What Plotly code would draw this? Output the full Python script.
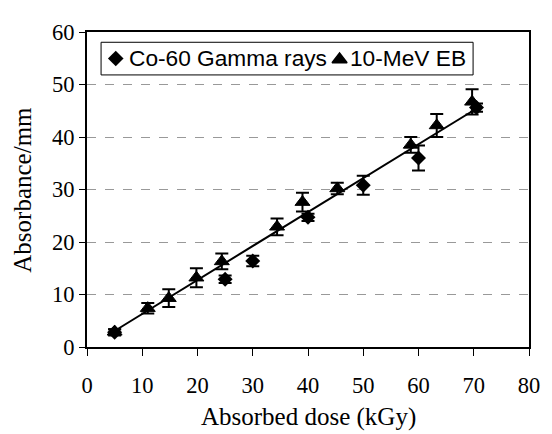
import plotly.graph_objects as go

# Co-60 gamma rays
gamma_dose = [5, 25, 30, 40, 50, 60, 70.5]
gamma_abs = [2.8, 12.9, 16.4, 24.7, 30.8, 36.0, 45.6]
gamma_err = [0.6, 0.7, 1.0, 0.7, 1.8, 2.4, 0.8]

# 10-MeV electron beam
eb_dose = [5, 11, 14.8, 19.8, 24.4, 34.4, 39, 45.3, 58.6, 63.3, 69.7]
eb_abs = [2.9, 7.4, 9.3, 13.2, 16.3, 22.9, 27.6, 30.2, 38.5, 42.2, 46.7]
eb_err = [0.5, 1.0, 1.7, 1.8, 1.5, 1.6, 1.8, 1.1, 1.5, 2.2, 2.4]

# linear trend line end points
fit_dose = [4.9, 71.4]
fit_abs = [3.0, 46.0]

x_ticks = [0, 10, 20, 30, 40, 50, 60, 70, 80]
y_ticks = [0, 10, 20, 30, 40, 50, 60]

series_names = ["Co-60 Gamma rays", "10-MeV EB"]

serif = "Liberation Serif, Times New Roman, serif"
sans = "Liberation Sans, Arial, sans-serif"

# the page body has an 8px margin, so the figure is drawn 8px in from the window corner
OFF = 8
W, H = 552 - OFF, 434 - OFF
ML, MR, MT, MB = 87.3 - OFF, 12.5, 21.7 - OFF, 87.3
PW, PH = W - ML - MR, H - MT - MB


def fx(px):
    """window pixel x -> paper fraction"""
    return (px - OFF - ML) / PW


def fy(py):
    """window pixel y -> paper fraction"""
    return (H - MB - (py - OFF)) / PH


fig = go.Figure()
fig.add_trace(go.Scatter(
    x=gamma_dose, y=gamma_abs, mode="markers", name=series_names[0], showlegend=False,
    marker=dict(symbol="diamond", size=11.5, color="black"),
    error_y=dict(type="data", array=gamma_err, visible=True, color="black", thickness=2, width=6.5),
))
fig.add_trace(go.Scatter(
    x=eb_dose, y=eb_abs, mode="markers", name=series_names[1], showlegend=False,
    marker=dict(symbol="triangle-up", size=13, color="black", line=dict(color="black", width=1)),
    error_y=dict(type="data", array=eb_err, visible=True, color="black", thickness=2, width=6.5),
))
fig.add_trace(go.Scatter(
    x=fit_dose, y=fit_abs, mode="lines", showlegend=False,
    line=dict(color="black", width=2),
))

# legend keys drawn on an overlay axis spanning the plot area
fig.add_trace(go.Scatter(
    x=[fx(116.7)], y=[fy(49)], mode="markers", xaxis="x2", yaxis="y2", showlegend=False,
    marker=dict(symbol="diamond", size=12, color="black"), hoverinfo="skip",
))
fig.add_trace(go.Scatter(
    x=[fx(345.7)], y=[fy(50)], mode="markers", xaxis="x2", yaxis="y2", showlegend=False,
    marker=dict(symbol="triangle-up", size=13, color="black", line=dict(color="black", width=1.5)),
    hoverinfo="skip",
))

fig.add_shape(type="rect", xref="paper", yref="paper",
              x0=fx(101.7), x1=fx(482.3), y0=fy(66), y1=fy(32.3),
              line=dict(color="black", width=1), fillcolor="white", layer="below")

legend_font = dict(family=sans, size=22.7, color="black")
fig.add_annotation(text=series_names[0], xref="paper", yref="paper", x=fx(128), y=fy(48.5),
                   xanchor="left", yanchor="middle", showarrow=False, font=legend_font)
fig.add_annotation(text=series_names[1], xref="paper", yref="paper", x=fx(354), y=fy(48.5),
                   xanchor="left", yanchor="middle", showarrow=False, font=legend_font)

# axis titles
title_font = dict(family=serif, size=25, color="black")
fig.add_annotation(text="Absorbed dose (kGy)", xref="paper", yref="paper", x=0.5, y=fy(419),
                   xanchor="center", yanchor="middle", showarrow=False, font=title_font)
fig.add_annotation(text="Absorbance/mm", xref="paper", yref="paper", x=fx(21), y=0.5,
                   xanchor="center", yanchor="middle", textangle=-90, showarrow=False, font=title_font)

fig.update_layout(
    width=W, height=H,
    margin=dict(l=ML, r=MR, t=MT, b=MB),
    paper_bgcolor="white", plot_bgcolor="white",
    showlegend=False,
    xaxis=dict(
        range=[0, 80], tickvals=x_ticks, ticks="outside", ticklen=7, tickwidth=1,
        tickcolor="black", showline=True, linecolor="black", linewidth=2, mirror=True,
        showgrid=False, zeroline=False, ticklabelstandoff=10,
        tickfont=dict(family=serif, size=22.5, color="black"),
    ),
    yaxis=dict(
        range=[0, 60], tickvals=y_ticks, ticks="outside", ticklen=6, tickwidth=1,
        tickcolor="black", showline=True, linecolor="black", linewidth=2, mirror=True,
        showgrid=True, gridcolor="#999999", gridwidth=1, griddash="dash", zeroline=False,
        tickfont=dict(family=serif, size=22.5, color="black"),
    ),
    xaxis2=dict(overlaying="x", range=[0, 1], visible=False, fixedrange=True),
    yaxis2=dict(overlaying="y", range=[0, 1], visible=False, fixedrange=True),
)

fig.write_html("out.html")
